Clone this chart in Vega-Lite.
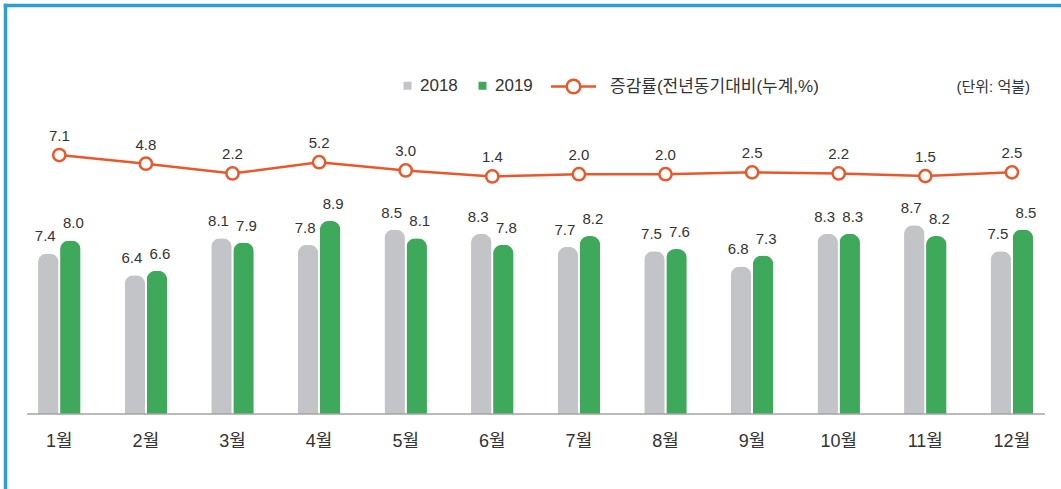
{
  "$schema": "https://vega.github.io/schema/vega-lite/v6.json",
  "width": 1056,
  "height": 484,
  "autosize": {"type": "none"},
  "padding": {"left": 5, "top": 5, "right": 0, "bottom": 0},
  "background": "white",
  "config": {
    "view": {"stroke": null},
    "font": "Liberation Sans, Noto Sans CJK KR",
    "axis": {"grid": false}
  },
  "title": {
    "text": "(단위: 억불)",
    "orient": "top",
    "anchor": "end",
    "frame": "group",
    "offset": 0,
    "baseline": "middle",
    "dy": 97,
    "dx": -31,
    "fontSize": 15,
    "fontWeight": "normal",
    "color": "#333333",
    "font": "Liberation Sans, Noto Sans CJK KR"
  },
  "datasets": {
    "bars": [
      {"month": "1월", "year": "2018", "value": 7.4},
      {"month": "1월", "year": "2019", "value": 8.0},
      {"month": "2월", "year": "2018", "value": 6.4},
      {"month": "2월", "year": "2019", "value": 6.6},
      {"month": "3월", "year": "2018", "value": 8.1},
      {"month": "3월", "year": "2019", "value": 7.9},
      {"month": "4월", "year": "2018", "value": 7.8},
      {"month": "4월", "year": "2019", "value": 8.9},
      {"month": "5월", "year": "2018", "value": 8.5},
      {"month": "5월", "year": "2019", "value": 8.1},
      {"month": "6월", "year": "2018", "value": 8.3},
      {"month": "6월", "year": "2019", "value": 7.8},
      {"month": "7월", "year": "2018", "value": 7.7},
      {"month": "7월", "year": "2019", "value": 8.2},
      {"month": "8월", "year": "2018", "value": 7.5},
      {"month": "8월", "year": "2019", "value": 7.6},
      {"month": "9월", "year": "2018", "value": 6.8},
      {"month": "9월", "year": "2019", "value": 7.3},
      {"month": "10월", "year": "2018", "value": 8.3},
      {"month": "10월", "year": "2019", "value": 8.3},
      {"month": "11월", "year": "2018", "value": 8.7},
      {"month": "11월", "year": "2019", "value": 8.2},
      {"month": "12월", "year": "2018", "value": 7.5},
      {"month": "12월", "year": "2019", "value": 8.5}
    ],
    "rate": [
      {"month": "1월", "rate": 7.1},
      {"month": "2월", "rate": 4.8},
      {"month": "3월", "rate": 2.2},
      {"month": "4월", "rate": 5.2},
      {"month": "5월", "rate": 3.0},
      {"month": "6월", "rate": 1.4},
      {"month": "7월", "rate": 2.0},
      {"month": "8월", "rate": 2.0},
      {"month": "9월", "rate": 2.5},
      {"month": "10월", "rate": 2.2},
      {"month": "11월", "rate": 1.5},
      {"month": "12월", "rate": 2.5}
    ]
  },
  "layer": [
    {
      "data": {"name": "bars"},
      "layer": [
        {
          "mark": {"type": "bar", "cornerRadiusTopLeft": 9, "cornerRadiusTopRight": 9},
          "encoding": {
            "x": {
              "field": "month", "type": "nominal",
              "scale": {"domain": ["1월","2월","3월","4월","5월","6월","7월","8월","9월","10월","11월","12월"], "paddingInner": 0, "paddingOuter": 0.097, "align": 0.655},
              "axis": {"orient": "bottom", "offset": -75, "domain": false, "ticks": false, "tickSize": 0, "labelPadding": 18, "labelFontSize": 18, "labelColor": "#333333", "labelAngle": 0, "title": null}
            },
            "xOffset": {"field": "year", "type": "nominal", "scale": {"domain": ["2018", "2019"], "paddingInner": 0.07, "paddingOuter": 1.3}},
            "y": {
              "field": "value", "type": "quantitative",
              "scale": {"domain": [-3.456, 18.85], "zero": false, "nice": false},
              "axis": {"orient": "left", "domain": true, "domainColor": "#2f9fd3", "domainWidth": 3.5, "domainCap": "square", "ticks": false, "labels": false, "grid": false, "title": null}
            },
            "color": {
              "field": "year", "type": "nominal",
              "scale": {"domain": ["2018", "2019"], "range": ["#c3c4c8", "#3fa95b"]},
              "legend": {"orient": "none", "legendX": 394, "legendY": 72, "direction": "horizontal", "title": null, "symbolType": "square", "symbolSize": 64, "labelFontSize": 17, "labelColor": "#333333", "labelOffset": 4, "columnPadding": 16, "padding": 0}
            }
          }
        },
        {
          "transform": [{"filter": "datum.year == '2018'"}],
          "mark": {"type": "text", "fontSize": 15, "color": "#333333", "baseline": "alphabetic", "dy": -12, "dx": -3},
          "encoding": {
            "x": {"field": "month", "type": "nominal", "scale": {"domain": ["1월","2월","3월","4월","5월","6월","7월","8월","9월","10월","11월","12월"], "paddingInner": 0, "paddingOuter": 0.097, "align": 0.655}},
            "xOffset": {"field": "year", "type": "nominal", "scale": {"domain": ["2018", "2019"], "paddingInner": 0.07, "paddingOuter": 1.3}},
            "y": {"field": "value", "type": "quantitative"},
            "text": {"field": "value", "type": "quantitative", "format": ".1f"}
          }
        },
        {
          "transform": [{"filter": "datum.year == '2019'"}],
          "mark": {"type": "text", "fontSize": 15, "color": "#333333", "baseline": "alphabetic", "dy": -12, "dx": 3},
          "encoding": {
            "x": {"field": "month", "type": "nominal", "scale": {"domain": ["1월","2월","3월","4월","5월","6월","7월","8월","9월","10월","11월","12월"], "paddingInner": 0, "paddingOuter": 0.097, "align": 0.655}},
            "xOffset": {"field": "year", "type": "nominal", "scale": {"domain": ["2018", "2019"], "paddingInner": 0.07, "paddingOuter": 1.3}},
            "y": {"field": "value", "type": "quantitative"},
            "text": {"field": "value", "type": "quantitative", "format": ".1f"}
          }
        },
        {
          "data": {"values": [{}]},
          "mark": {"type": "rule", "color": "#a3a3a3", "strokeWidth": 1.5},
          "encoding": {
            "x": {"datum": "1월", "type": "nominal", "bandPosition": 0.127},
            "x2": {"datum": "12월", "bandPosition": 0.88},
            "y": {"datum": 0, "type": "quantitative"}
          }
        }
      ]
    },
    {
      "data": {"name": "rate"},
      "layer": [
        {
          "mark": {"type": "line", "strokeWidth": 2.5},
          "encoding": {
            "x": {
              "field": "month", "type": "nominal",
              "scale": {"domain": ["1월","2월","3월","4월","5월","6월","7월","8월","9월","10월","11월","12월"], "paddingInner": 0, "paddingOuter": 0.097, "align": 0.655},
              "axis": {"orient": "top", "domain": true, "domainColor": "#2f9fd3", "domainWidth": 3.5, "domainCap": "square", "ticks": false, "labels": false, "title": null}
            },
            "y": {
              "field": "rate", "type": "quantitative",
              "scale": {"domain": [-81.7, 47.0], "zero": false, "nice": false},
              "axis": null
            },
            "stroke": {
              "datum": "증감률(전년동기대비(누계,%)",
              "type": "nominal",
              "scale": {"range": ["#e9582a"]},
              "legend": {"orient": "none", "legendX": 552, "legendY": 65, "title": null, "symbolType": "M-1.5,0L-0.45,0M0.45,0L1.5,0M0.45,0A0.45,0.45,0,1,1,-0.45,0A0.45,0.45,0,1,1,0.45,0", "symbolSize": 900, "symbolStrokeWidth": 2.5, "symbolFillColor": "white", "labelFontSize": 17, "labelColor": "#333333", "labelOffset": 20, "padding": 0, "labelLimit": 400}
            }
          }
        },
        {
          "mark": {"type": "point", "shape": "circle", "fill": "white", "size": 150, "strokeWidth": 2.5, "opacity": 1},
          "encoding": {
            "x": {"field": "month", "type": "nominal", "scale": {"domain": ["1월","2월","3월","4월","5월","6월","7월","8월","9월","10월","11월","12월"], "paddingInner": 0, "paddingOuter": 0.097, "align": 0.655}},
            "y": {"field": "rate", "type": "quantitative"},
            "stroke": {"datum": "증감률(전년동기대비(누계,%)", "type": "nominal"}
          }
        },
        {
          "mark": {"type": "text", "fontSize": 15, "color": "#333333", "baseline": "alphabetic", "dy": -14},
          "encoding": {
            "x": {"field": "month", "type": "nominal", "scale": {"domain": ["1월","2월","3월","4월","5월","6월","7월","8월","9월","10월","11월","12월"], "paddingInner": 0, "paddingOuter": 0.097, "align": 0.655}},
            "y": {"field": "rate", "type": "quantitative"},
            "text": {"field": "rate", "type": "quantitative", "format": ".1f"}
          }
        }
      ]
    }
  ],
  "resolve": {"scale": {"y": "independent"}, "axis": {"x": "independent", "y": "independent"}}
}
